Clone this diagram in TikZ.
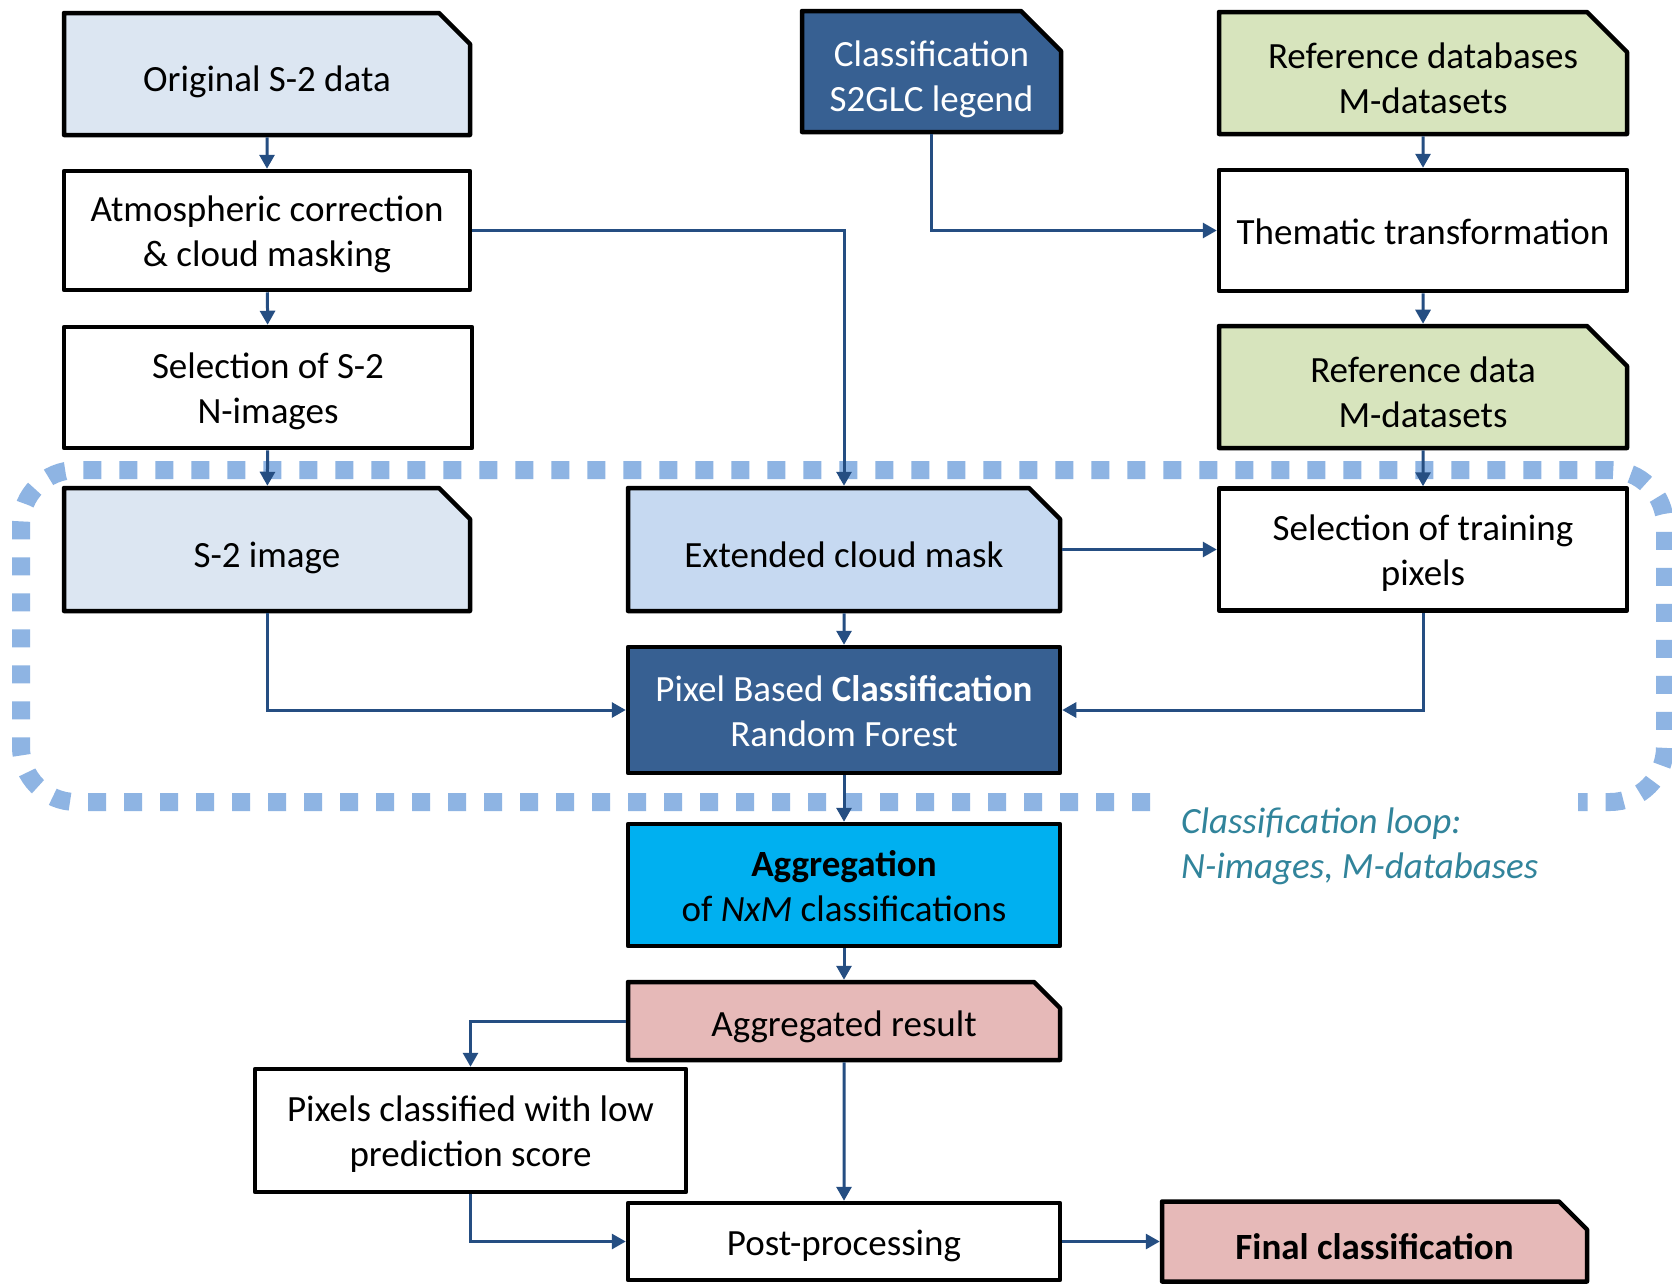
\documentclass[tikz,border=0pt]{standalone}
\usepackage{fontspec}
\setmainfont{Carlito}
\usetikzlibrary{arrows.meta,shapes.misc}
\definecolor{lbA}{HTML}{DCE6F2}
\definecolor{lbB}{HTML}{C6D9F1}
\definecolor{dkb}{HTML}{376092}
\definecolor{grn}{HTML}{D7E4BD}
\definecolor{cyn}{HTML}{00B0F0}
\definecolor{pnk}{HTML}{E6B9B8}
\definecolor{connc}{HTML}{254E82}
\definecolor{loopc}{HTML}{8EB4E3}
\definecolor{looptxt}{HTML}{31849B}
% invisible struts that fix the text position inside the boxes
\newcommand{\snipT}{\rule{0pt}{48.5pt}}
\newcommand{\snipTs}{\rule{0pt}{45pt}}
\newcommand{\rectT}{\rule{0pt}{41pt}}
\newcommand{\botS}{\rule[-13.5pt]{0pt}{13.5pt}}
\begin{document}
\begin{tikzpicture}[x=1pt,y=-1pt,
  box/.style={draw=black, line width=4.5pt, line join=round, rectangle, inner sep=0pt, align=center,
    font=\fontsize{37}{45}\selectfont, text=black},
  snipbox/.style={box, chamfered rectangle, chamfered rectangle corners=north east,
    chamfered rectangle xsep=#1, chamfered rectangle ysep=#1, inner xsep=-#1, inner ysep=-#1},
  snipbox/.default=20pt,
  conn/.style={draw=connc, line width=3pt, -{Triangle[length=14pt,width=15pt]}},
  loopline/.style={draw=loopc, line width=18pt, dash pattern=on 18pt off 18pt, rounded corners=55pt},
]
\fill[white] (0,0) rectangle (1672,1283);
\useasboundingbox (0,0) rectangle (1672,1283);

% classification loop frame
\draw[loopline] (1150,802) -- (21,802) -- (21,470) -- (1665,470) -- (1665,802) -- (1578,802);
\node[anchor=west, align=left, inner sep=0pt, font=\fontsize{37}{45}\selectfont\itshape, text=looptxt]
  (looplabel) at (1181,846) {Classification loop:\\N-images, M-databases};

% nodes
\node[snipbox, fill=lbA, minimum width=406pt, minimum height=122pt] (orig) at (267,74) {\snipT Original S-2 data\botS};
\node[box, fill=white, minimum width=406pt, minimum height=119pt] (atm) at (267,230.5) {\rectT Atmospheric correction\\\& cloud masking\botS};
\node[box, fill=white, minimum width=408pt, minimum height=121pt] (sel) at (268,387.5) {\rectT Selection of S-2\\N-images\botS};
\node[snipbox, fill=lbA, minimum width=406pt, minimum height=123pt] (s2i) at (267,549.5) {\snipT S-2 image\botS};

\node[snipbox, fill=dkb, text=white, minimum width=259pt, minimum height=121pt] (leg) at (931.5,71.5) {\snipT Classification\\S2GLC legend\botS};

\node[snipbox, fill=grn, minimum width=408pt, minimum height=122pt] (refdb) at (1423,73) {\snipT Reference databases\\M-datasets\botS};
\node[box, fill=white, minimum width=408pt, minimum height=121pt] (them) at (1423,230.5) {\rectT Thematic transformation\botS};
\node[snipbox, fill=grn, minimum width=408pt, minimum height=122pt] (refd) at (1423,387) {\snipT Reference data\\M-datasets\botS};
\node[box, fill=white, minimum width=408pt, minimum height=122pt] (trn) at (1423,549.5) {\rectT Selection of training\\pixels\botS};

\node[snipbox, fill=lbB, minimum width=432pt, minimum height=123pt] (ext) at (844,549.5) {\snipT Extended cloud mask\botS};
\node[box, fill=dkb, text=white, minimum width=432pt, minimum height=126pt] (pix) at (844,710) {\rectT Pixel Based \textbf{Classification}\\Random Forest\botS};
\node[box, fill=cyn, minimum width=432pt, minimum height=122pt] (agg) at (844,885) {\rectT\textbf{Aggregation}\\of \textit{NxM} classifications\botS};
\node[snipbox=13pt, fill=pnk, minimum width=432pt, minimum height=78pt] (agr) at (844,1021) {\snipTs Aggregated result\botS};
\node[box, fill=white, minimum width=431pt, minimum height=123pt] (low) at (470.5,1130.5) {\rectT Pixels classified with low\\prediction score\botS};
\node[box, fill=white, minimum width=432pt, minimum height=77pt] (post) at (844,1241.5) {\rectT Post-processing\botS};
\node[snipbox=14pt, fill=pnk, minimum width=425pt, minimum height=80pt] (fin) at (1374.5,1241.5) {\snipT\textbf{Final classification}\botS};

% connectors
\draw[conn] (orig) -- (atm);
\draw[conn] (atm) -- (sel);
\draw[conn] (sel) -- (s2i);
\draw[conn] (atm.east) -| (ext.north);
\draw[conn] (leg.south) |- (them.west);
\draw[conn] (refdb) -- (them);
\draw[conn] (them) -- (refd);
\draw[conn] (refd) -- (trn);
\draw[conn] (ext.east) -- (trn.west);
\draw[conn] (ext) -- (pix);
\draw[conn] (s2i.south) |- (pix.west);
\draw[conn] (trn.south) |- (pix.east);
\draw[conn] (pix) -- (agg);
\draw[conn] (agg) -- (agr);
\draw[conn] (agr.west) -| (low.north);
\draw[conn] (agr) -- (post);
\draw[conn] (low.south) |- (post.west);
\draw[conn] (post.east) -- (post.east -| fin.west);
\end{tikzpicture}
\end{document}
